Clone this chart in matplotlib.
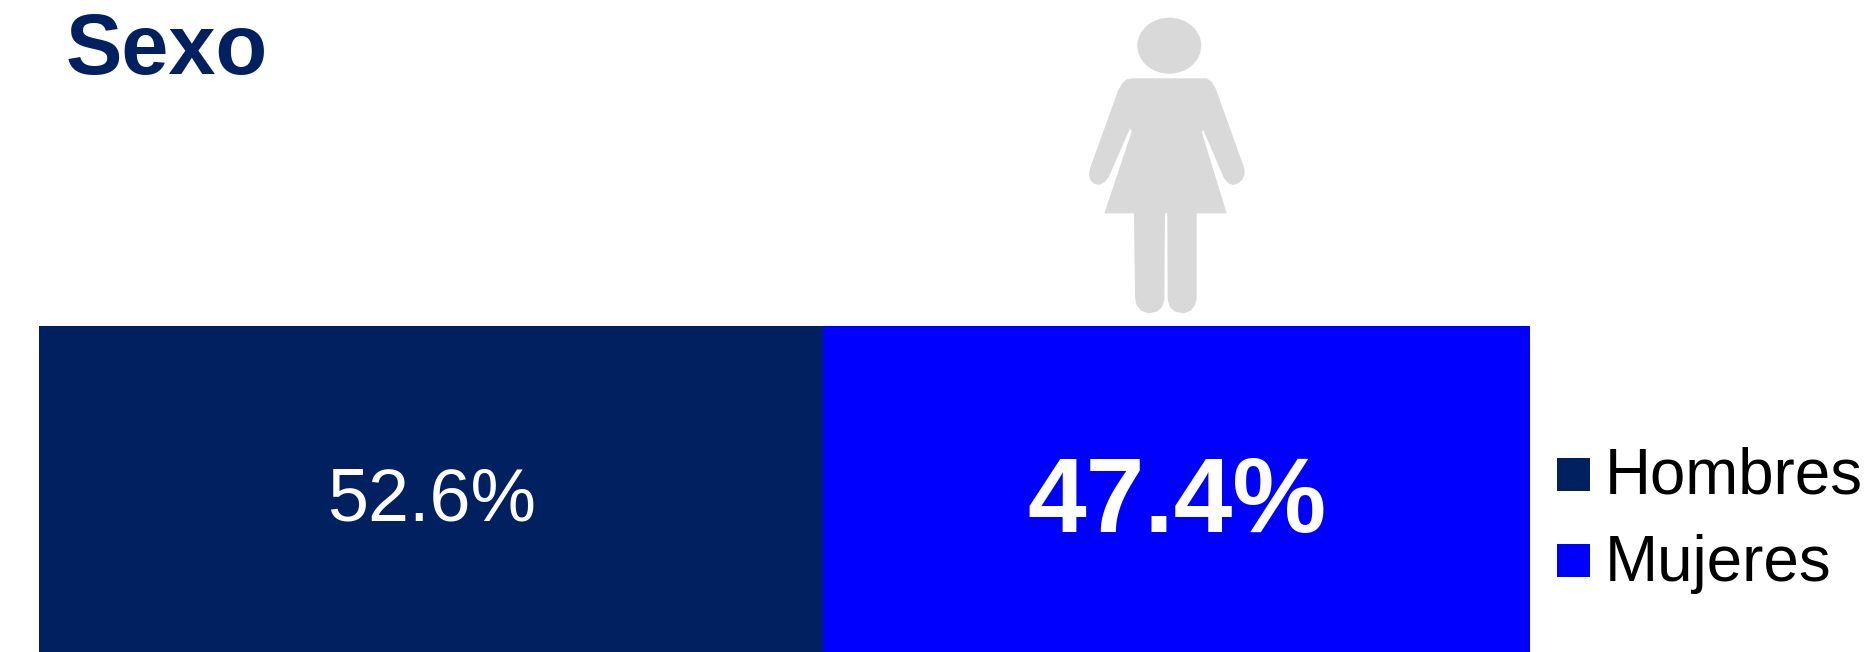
import matplotlib
matplotlib.use("Agg")
import matplotlib.pyplot as plt
from matplotlib.patches import Ellipse, Polygon, Rectangle
from matplotlib.transforms import Affine2D

categories = ["Hombres", "Mujeres"]
values = [52.6, 47.4]
labels = ["52.6%", "47.4%"]
weights = ["normal", "bold"]
sizes = [53, 76]
baselines = [0.402, 0.368]
colors = ["#002060", "#0000FF"]
title = "Sexo"

W, H = 1869, 652
plt.rcParams["font.family"] = ["Liberation Sans", "DejaVu Sans"]
fig = plt.figure(figsize=(W / 100, H / 100), dpi=100, facecolor="white")
ax = fig.add_axes([39 / W, 0, 1491 / W, 326 / H])
ax.set_xlim(0, 100)
ax.set_ylim(0, 1)
ax.axis("off")

left = 0
for v, lab, w, s, b, c in zip(values, labels, weights, sizes, baselines, colors):
    ax.barh(0.5, v, height=1, left=left, color=c, linewidth=0)
    ax.text(left + v / 2, b, lab, color="white", fontsize=s, fontweight=w,
            ha="center", va="baseline")
    left += v

# pixel transform with origin at the top left of the figure
px = Affine2D().scale(1 / W, -1 / H).translate(0, 1) + fig.transFigure

fig.text(66 / W, 1 - 74 / H, title, color="#002060", fontsize=61,
         fontweight="bold", ha="left", va="baseline")

# legend
for c, name, ytop, base in zip(colors, categories, [458, 544], [494, 581]):
    fig.add_artist(Rectangle((1557, ytop), 33, 33, facecolor=c, linewidth=0, transform=px))
    fig.text(1605 / W, 1 - base / H, name, color="black", fontsize=45.8,
             ha="left", va="baseline")

# woman icon, traced in zoom coordinates (3x, origin at 1060,0)
icon = [(215, 235), (440, 235), (455, 245), (468, 268), (553, 505), (554, 522), (548, 538), (535, 550),
        (520, 555), (505, 550), (492, 535), (430, 390), (425, 395), (500, 640), (410, 640),
        (410, 895), (405, 915), (392, 932), (370, 940), (345, 935), (330, 922), (323, 900), (322, 640), (315, 640),
        (313, 900), (306, 922), (290, 935), (265, 940), (243, 932), (230, 915), (225, 895), (222, 640), (133, 640),
        (215, 395), (210, 385), (147, 530), (135, 545), (120, 554), (103, 552), (91, 540), (87, 522), (90, 505),
        (175, 270), (188, 248), (200, 238)]
grey = "#D9D9D9"
fig.add_artist(Polygon([(1060 + x / 3, y / 3) for x, y in icon], closed=True,
                       facecolor=grey, linewidth=0, transform=px))
fig.add_artist(Ellipse((1169.3, 45.7), 64, 56, facecolor=grey, linewidth=0, transform=px))

fig.savefig("out.png", dpi=100, facecolor="white")
